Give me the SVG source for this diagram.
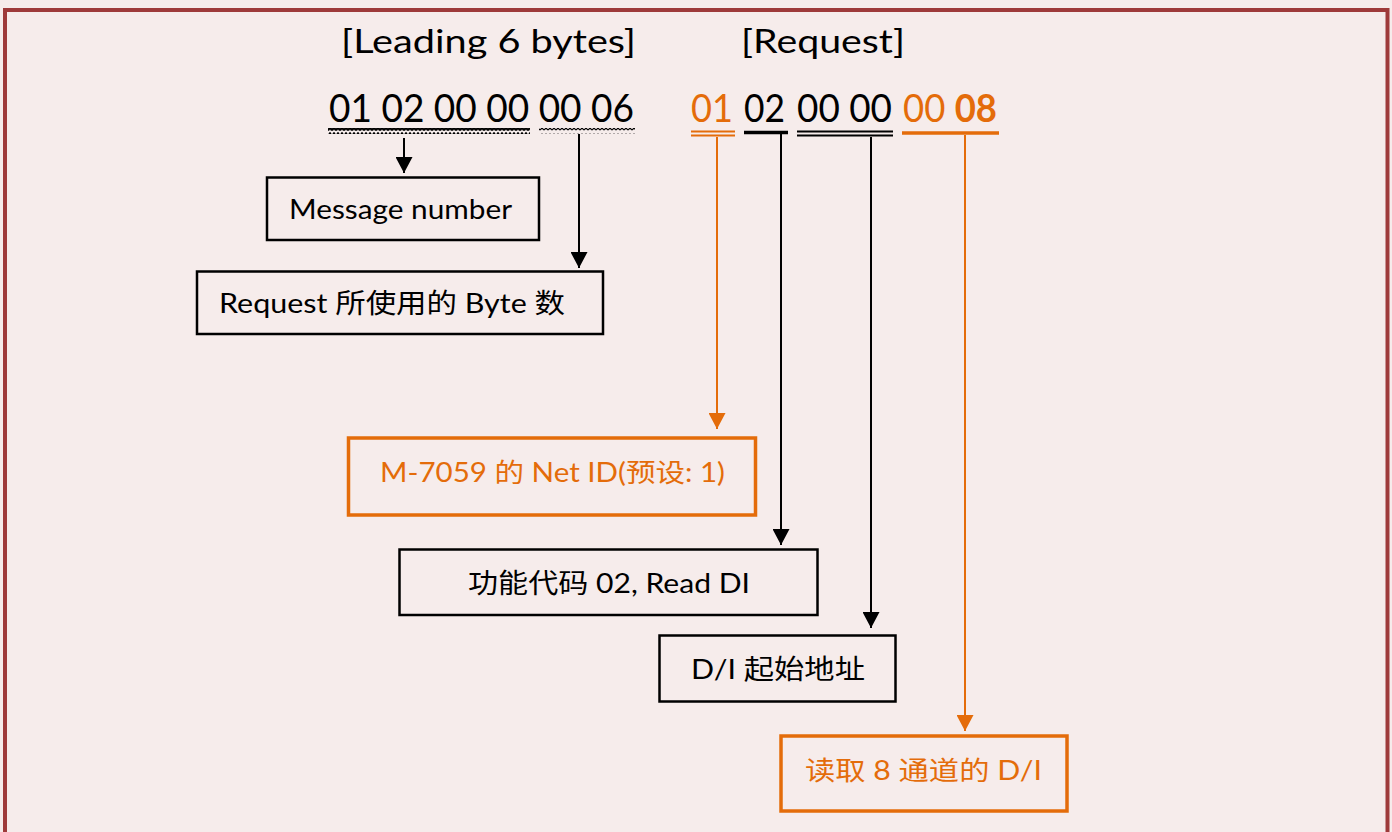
<svg xmlns="http://www.w3.org/2000/svg" width="1392" height="832" viewBox="0 0 1392 832">
<style>
.t{font-family:Lato,"Noto Sans CJK SC",sans-serif;}
.k{fill:#000}
.o{fill:#E46C0A}
.bk{fill:none;stroke:#000;stroke-width:2.5}
.bo{fill:none;stroke:#E46C0A;stroke-width:3.5}
.ck{stroke:#000;stroke-width:2;fill:none}
.co{stroke:#E46C0A;stroke-width:2;fill:none}
</style>
<defs>
<marker id="ak" viewBox="0 0 16 17" markerWidth="16" markerHeight="17" refX="16" refY="8.5" orient="auto" markerUnits="userSpaceOnUse"><path d="M0,0 L16,8.5 L0,17 Z" fill="#000"/></marker>
<marker id="ao" viewBox="0 0 16 17" markerWidth="16" markerHeight="17" refX="16" refY="8.5" orient="auto" markerUnits="userSpaceOnUse"><path d="M0,0 L16,8.5 L0,17 Z" fill="#E46C0A"/></marker>
<pattern id="wthick" width="4" height="6" patternUnits="userSpaceOnUse"><path d="M0,4.5 L2,1.5 L4,4.5" stroke="#000" stroke-width="2.2" fill="none"/></pattern>
<pattern id="wthin" width="4" height="6" patternUnits="userSpaceOnUse"><path d="M0,4 L2,2 L4,4" stroke="#000" stroke-width="1.2" fill="none"/></pattern>
</defs>
<rect x="0" y="0" width="1392" height="832" fill="#F6ECEB"/>
<rect x="5" y="10" width="1382.5" height="840" fill="none" stroke="#9E3A3A" stroke-width="4"/>

<g id="headers" class="t">
<text x="341" y="53" font-size="32" class="k" textLength="295" lengthAdjust="spacingAndGlyphs">[Leading 6 bytes]</text>
<text x="741" y="53" font-size="32" class="k" textLength="164" lengthAdjust="spacingAndGlyphs">[Request]</text>
</g>

<g id="bytes" class="t">
<text x="329" y="122" font-size="39" class="k" textLength="305" lengthAdjust="spacingAndGlyphs">01 02 00 00 00 06</text>
<rect x="328" y="128" width="202" height="6" fill="url(#wthick)"/>
<rect x="539" y="128" width="96" height="6" fill="url(#wthin)"/>
<text x="691" y="122" font-size="39" class="o" textLength="42" lengthAdjust="spacingAndGlyphs">01</text>
<text x="744" y="122" font-size="39" class="k" textLength="41" lengthAdjust="spacingAndGlyphs">02</text>
<text x="797" y="122" font-size="39" class="k" textLength="95" lengthAdjust="spacingAndGlyphs">00 00</text>
<text x="903" y="122" font-size="39" class="o" textLength="94" lengthAdjust="spacingAndGlyphs">00 <tspan font-weight="bold">08</tspan></text>
<line x1="691" y1="131.5" x2="735" y2="131.5" stroke="#E46C0A" stroke-width="1.8"/>
<line x1="691" y1="135.5" x2="735" y2="135.5" stroke="#E46C0A" stroke-width="1.8"/>
<line x1="744" y1="132.5" x2="788" y2="132.5" stroke="#000" stroke-width="3.5"/>
<line x1="797" y1="131.5" x2="893" y2="131.5" stroke="#000" stroke-width="1.8"/>
<line x1="797" y1="135.5" x2="893" y2="135.5" stroke="#000" stroke-width="1.8"/>
<line x1="902" y1="133" x2="999" y2="133" stroke="#E46C0A" stroke-width="3.5"/>
</g>

<g id="connectors">
<line x1="404" y1="138" x2="404" y2="173" class="ck" marker-end="url(#ak)"/>
<line x1="579" y1="134" x2="579" y2="268" class="ck" marker-end="url(#ak)"/>
<line x1="717" y1="137" x2="717" y2="429" class="co" marker-end="url(#ao)"/>
<line x1="781" y1="134" x2="781" y2="545" class="ck" marker-end="url(#ak)"/>
<line x1="871" y1="137" x2="871" y2="628" class="ck" marker-end="url(#ak)"/>
<line x1="965" y1="135" x2="965" y2="731" class="co" marker-end="url(#ao)"/>
</g>

<g id="n-message">
<rect x="267" y="177.5" width="272" height="62.5" class="bk"/>
<text x="289" y="219" font-size="27" class="t k" textLength="223" lengthAdjust="spacingAndGlyphs">Message number</text>
</g>
<g id="n-bytecount">
<rect x="197" y="271.5" width="406" height="62.5" class="bk"/>
<text x="219" y="313" font-size="27" class="t k" textLength="346" lengthAdjust="spacingAndGlyphs">Request 所使用的 Byte 数</text>
</g>
<g id="n-netid">
<rect x="348.5" y="438" width="407" height="77" class="bo"/>
<text x="380" y="482" font-size="26" class="t o" textLength="345" lengthAdjust="spacingAndGlyphs">M-7059 的 Net ID(预设: 1)</text>
</g>
<g id="n-func">
<rect x="399.5" y="549.5" width="418" height="65.5" class="bk"/>
<text x="468" y="593" font-size="27" class="t k" textLength="282" lengthAdjust="spacingAndGlyphs">功能代码 02, Read DI</text>
</g>
<g id="n-addr">
<rect x="659.5" y="635.5" width="236" height="66" class="bk"/>
<text x="691" y="679" font-size="27" class="t k" textLength="174" lengthAdjust="spacingAndGlyphs">D/I 起始地址</text>
</g>
<g id="n-read">
<rect x="781" y="736" width="286" height="75" class="bo"/>
<text x="805" y="780" font-size="26" class="t o" textLength="237" lengthAdjust="spacingAndGlyphs">读取 8 通道的 D/I</text>
</g>
</svg>
